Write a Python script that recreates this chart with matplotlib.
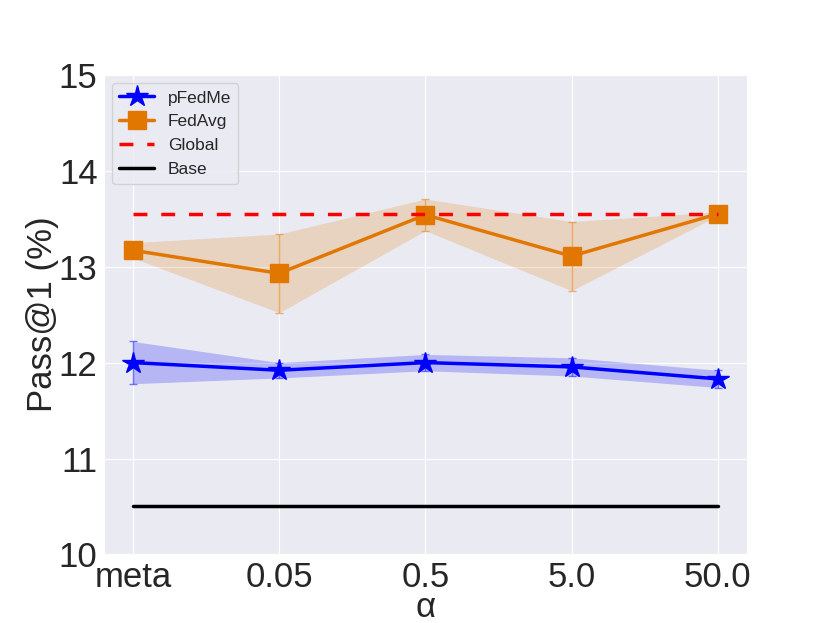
import matplotlib
matplotlib.use("Agg")
import matplotlib.pyplot as plt
import seaborn as sns
import numpy as np

sns.set_style("darkgrid")
plt.rcParams['font.family'] = ['Liberation Sans', 'DejaVu Sans']

alphas = ["meta", "0.05", "0.5", "5.0", "50.0"]

pfedme_mean = [12.00, 11.92, 12.00, 11.955, 11.83]
pfedme_std = [0.22, 0.08, 0.085, 0.095, 0.09]

fedavg_mean = [13.17, 12.93, 13.54, 13.11, 13.55]
fedavg_std = [0.08, 0.41, 0.165, 0.36, 0.02]

global_val = 13.55
base_val = 10.5

x = np.arange(len(alphas))

fig, ax = plt.subplots(figsize=(8.3, 6.23), dpi=100)

blue = "blue"
orange = "#e17701"

pm = np.array(pfedme_mean)
ps = np.array(pfedme_std)
fm = np.array(fedavg_mean)
fs = np.array(fedavg_std)

ax.plot(x, pm, color=blue, marker="*", markersize=16, linewidth=2.5, label="pFedMe")
ax.errorbar(x, pm, yerr=ps, fmt="none", ecolor=blue, elinewidth=1, capsize=3, alpha=0.5)
ax.fill_between(x, pm - ps, pm + ps, color=blue, alpha=0.22, linewidth=0)

ax.plot(x, fm, color=orange, marker="s", markersize=13, linewidth=2.5, label="FedAvg")
ax.errorbar(x, fm, yerr=fs, fmt="none", ecolor=orange, elinewidth=1, capsize=3, alpha=0.5)
ax.fill_between(x, fm - fs, fm + fs, color=orange, alpha=0.2, linewidth=0)

ax.plot(x, [global_val] * len(x), color="red", linestyle="--", dashes=(4, 4), linewidth=2.5, label="Global")
ax.plot(x, [base_val] * len(x), color="black", linewidth=2.5, label="Base")

ax.set_ylim(10, 15)
ax.set_xticks(x)
ax.set_xticklabels(alphas)
ax.tick_params(labelsize=25, pad=1)
ax.set_xlabel("α", fontsize=25, labelpad=-2)
ax.set_ylabel("Pass@1 (%)", fontsize=25, labelpad=0)
ax.legend(loc="upper left", fontsize=12.5, frameon=True)

fig.savefig("out.png", dpi=100)
